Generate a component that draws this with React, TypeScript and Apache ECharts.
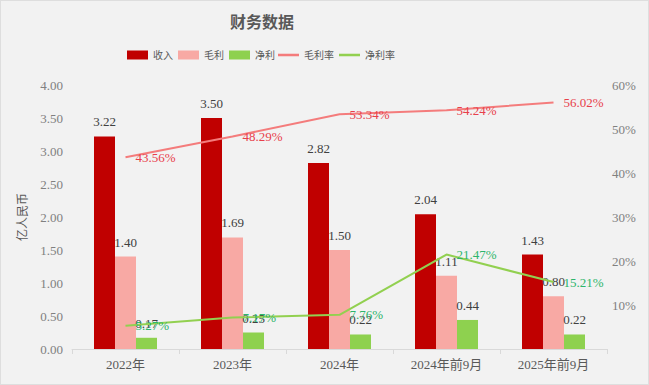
import React, { useEffect, useRef } from "react";
import * as echarts from "echarts";

const categories = ["2022年", "2023年", "2024年", "2024年前9月", "2025年前9月"];
const revenue = [3.22, 3.5, 2.82, 2.04, 1.43];
const grossProfit = [1.4, 1.69, 1.5, 1.11, 0.8];
const netProfit = [0.17, 0.25, 0.22, 0.44, 0.22];
const grossMargin = [43.56, 48.29, 53.34, 54.24, 56.02];
const netMargin = [5.27, 7.17, 7.76, 21.47, 15.21];
const leftTicks = { min: 0, max: 4, interval: 0.5 };
const rightTicks = { min: 0, max: 60, interval: 10 };

const SERIF = "'Liberation Serif', 'DejaVu Serif', 'Noto Sans CJK SC', serif";
const CJK = "'Liberation Serif', 'Noto Sans CJK SC', serif";

export default function App() {
  const ref = useRef<HTMLDivElement>(null);
  useEffect(() => {
    if (!ref.current) return;
    const chart = echarts.init(ref.current, null, { renderer: "svg" });
    const barLabel = {
      show: true,
      position: "top",
      distance: 8,
      color: "#404040",
      fontSize: 13,
      fontFamily: SERIF,
      formatter: (p: any) => Number(p.value).toFixed(2),
    };
    const lineLabel = (color: string) => ({
      show: true,
      position: "right",
      distance: 10,
      color,
      fontSize: 13,
      fontFamily: SERIF,
      formatter: (p: any) => Number(p.value).toFixed(2) + "%",
    });
    chart.setOption({
      animation: false,
      backgroundColor: "#F2F2F2",
      title: {
        text: "财务数据",
        left: 256,
        top: 8,
        textAlign: "center",
        textStyle: { color: "#595959", fontSize: 16, fontWeight: "bold", fontFamily: CJK },
      },
      legend: [
        {
          left: 121,
          top: 44,
          itemWidth: 21,
          itemHeight: 9,
          itemGap: 5,
          icon: "rect",
          textStyle: { color: "#595959", fontSize: 10, fontFamily: CJK },
          data: ["收入", "毛利", "净利"],
        },
        {
          left: 272,
          top: 44,
          itemWidth: 21,
          itemHeight: 9,
          itemGap: 5,
          icon: "path://M0,44 L100,44 L100,56 L0,56 Z",
          textStyle: { color: "#595959", fontSize: 10, fontFamily: CJK },
          data: ["毛利率", "净利率"],
        },
      ],
      grid: { left: 71, right: 41, top: 84, bottom: 35, containLabel: false },
      xAxis: {
        type: "category",
        data: categories,
        axisLine: { lineStyle: { color: "#D9D9D9" } },
        axisTick: { show: true, length: 5, lineStyle: { color: "#D9D9D9" } },
        axisLabel: { color: "#595959", fontSize: 13, fontFamily: CJK, margin: 9 },
      },
      yAxis: [
        {
          type: "value",
          min: leftTicks.min,
          max: leftTicks.max,
          interval: leftTicks.interval,
          name: "亿人民币",
          nameLocation: "middle",
          nameRotate: 90,
          nameGap: 33,
          nameTextStyle: { color: "#595959", fontSize: 12, fontFamily: CJK },
          axisLabel: {
            color: "#808080",
            fontSize: 13,
            fontFamily: SERIF,
            margin: 9,
            formatter: (v: number) => v.toFixed(2),
          },
          splitLine: { show: false },
          axisLine: { show: false },
          axisTick: { show: false },
        },
        {
          type: "value",
          min: rightTicks.min,
          max: rightTicks.max,
          interval: rightTicks.interval,
          axisLabel: {
            color: "#808080",
            fontSize: 13,
            fontFamily: SERIF,
            margin: 5,
            formatter: (v: number) => (v === 0 ? "" : v + "%"),
          },
          splitLine: { show: false },
          axisLine: { show: false },
          axisTick: { show: false },
        },
      ],
      series: [
        {
          name: "收入",
          type: "bar",
          data: revenue,
          barWidth: 21,
          barGap: "0%",
          itemStyle: { color: "#C00000" },
          label: barLabel,
        },
        {
          name: "毛利",
          type: "bar",
          data: grossProfit,
          barWidth: 21,
          barGap: "0%",
          itemStyle: { color: "#F8A9A4" },
          label: barLabel,
        },
        {
          name: "净利",
          type: "bar",
          data: netProfit,
          barWidth: 21,
          barGap: "0%",
          itemStyle: { color: "#8ED14F" },
          label: barLabel,
        },
        {
          name: "毛利率",
          type: "line",
          yAxisIndex: 1,
          data: grossMargin,
          symbol: "circle",
          symbolSize: 0,
          showSymbol: true,
          lineStyle: { color: "#F47C7C", width: 2 },
          itemStyle: { color: "#F47C7C" },
          label: lineLabel("#E8404B"),
          z: 5,
        },
        {
          name: "净利率",
          type: "line",
          yAxisIndex: 1,
          data: netMargin,
          symbol: "circle",
          symbolSize: 0,
          showSymbol: true,
          lineStyle: { color: "#92D050", width: 2 },
          itemStyle: { color: "#92D050" },
          label: lineLabel("#2DB56B"),
          z: 5,
        },
      ],
    });
    return () => chart.dispose();
  }, []);
  return (
    <div
      style={{
        position: "absolute",
        left: 0,
        top: 0,
        width: 649,
        height: 385,
        boxSizing: "border-box",
        border: "1px solid #DEDEDE",
        background: "#F2F2F2",
      }}
    >
      <div ref={ref} style={{ width: 647, height: 383 }} />
    </div>
  );
}
